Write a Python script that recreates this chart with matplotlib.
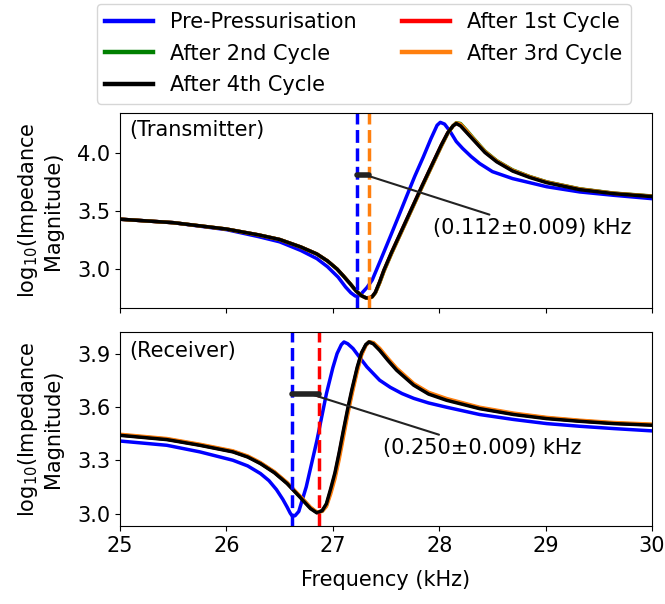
import matplotlib
matplotlib.use("Agg")
import matplotlib.pyplot as plt
import numpy as np

# ---- Transmitter: frequency (kHz) and log10 impedance magnitude ----
tx_pre_f = [25.0, 25.5, 26.0, 26.3, 26.5, 26.7, 26.85, 26.95, 27.05, 27.12, 27.17, 27.21,
            27.235, 27.27, 27.32, 27.37, 27.45, 27.54, 27.62, 27.69, 27.77, 27.85, 27.92,
            27.98, 28.01, 28.05, 28.1, 28.16, 28.22, 28.3, 28.38, 28.5, 28.69, 29.01,
            29.32, 29.64, 30.0]
tx_pre_v = [3.43, 3.40, 3.34, 3.28, 3.235, 3.16, 3.09, 3.02, 2.93, 2.845, 2.795, 2.768,
            2.765, 2.79, 2.84, 2.905, 3.08, 3.28, 3.46, 3.62, 3.80, 3.966, 4.12,
            4.24, 4.265, 4.25, 4.19, 4.10, 4.04, 3.97, 3.91, 3.84, 3.78, 3.71,
            3.665, 3.636, 3.607]

tx_f = [25.0, 25.5, 26.0, 26.3, 26.5, 26.7, 26.85, 26.95, 27.04, 27.1, 27.16, 27.22,
        27.27, 27.31, 27.34, 27.37, 27.40, 27.44, 27.48, 27.55, 27.65, 27.73, 27.84,
        27.94, 28.02, 28.08, 28.13, 28.16, 28.2, 28.26, 28.32, 28.43, 28.54, 28.69,
        28.85, 29.01, 29.32, 29.64, 30.0]
tx_c1_v = [3.43, 3.40, 3.345, 3.295, 3.255, 3.19, 3.13, 3.07, 3.00, 2.94, 2.877, 2.81,
           2.77, 2.752, 2.75, 2.762, 2.80, 2.89, 2.99, 3.14, 3.34, 3.50, 3.72,
           3.915, 4.07, 4.175, 4.235, 4.255, 4.24, 4.18, 4.12, 4.01, 3.93, 3.85,
           3.795, 3.75, 3.69, 3.654, 3.628]
tx_c2_v = [3.43, 3.40, 3.345, 3.295, 3.255, 3.19, 3.13, 3.07, 3.00, 2.94, 2.877, 2.81,
           2.77, 2.752, 2.75, 2.76, 2.795, 2.88, 2.98, 3.13, 3.33, 3.49, 3.71,
           3.905, 4.06, 4.17, 4.235, 4.262, 4.255, 4.195, 4.13, 4.017, 3.935, 3.855,
           3.798, 3.752, 3.692, 3.655, 3.63]
tx_c3_v = [3.43, 3.40, 3.345, 3.295, 3.255, 3.19, 3.13, 3.07, 3.00, 2.94, 2.877, 2.81,
           2.77, 2.752, 2.75, 2.76, 2.795, 2.88, 2.98, 3.13, 3.33, 3.49, 3.71,
           3.905, 4.06, 4.17, 4.235, 4.26, 4.25, 4.19, 4.125, 4.013, 3.932, 3.852,
           3.796, 3.75, 3.69, 3.653, 3.628]
tx_c4_v = [3.43, 3.40, 3.345, 3.295, 3.255, 3.19, 3.13, 3.07, 3.00, 2.94, 2.877, 2.81,
           2.77, 2.752, 2.75, 2.762, 2.80, 2.89, 2.99, 3.14, 3.34, 3.50, 3.72,
           3.915, 4.07, 4.175, 4.235, 4.255, 4.235, 4.175, 4.115, 4.005, 3.925, 3.845,
           3.79, 3.745, 3.685, 3.65, 3.625]

# ---- Receiver ----
rx_pre_f = [25.0, 25.44, 25.75, 26.06, 26.2, 26.32, 26.4, 26.47, 26.53, 26.57, 26.6,
            26.62, 26.645, 26.68, 26.75, 26.85, 26.94, 27.0, 27.04, 27.08, 27.105, 27.14,
            27.19, 27.25, 27.32, 27.44, 27.54, 27.65, 27.76, 27.9, 28.07, 28.38, 28.70,
            29.01, 29.32, 29.64, 30.0]
rx_pre_v = [3.408, 3.384, 3.347, 3.30, 3.268, 3.225, 3.185, 3.135, 3.08, 3.037, 3.002,
            2.985, 2.988, 3.012, 3.15, 3.41, 3.675, 3.82, 3.90, 3.95, 3.965, 3.955,
            3.928, 3.88, 3.825, 3.75, 3.71, 3.675, 3.648, 3.622, 3.598, 3.557, 3.529,
            3.506, 3.491, 3.478, 3.465]

rx_f = [25.0, 25.44, 25.75, 26.06, 26.2, 26.32, 26.45, 26.57, 26.69, 26.79, 26.85, 26.9,
        26.94, 26.98, 27.02, 27.06, 27.1, 27.14, 27.18, 27.23, 27.27, 27.31, 27.34,
        27.38, 27.44, 27.52, 27.60, 27.76, 27.90, 28.07, 28.38, 28.70, 29.01, 29.32,
        29.64, 30.0]
rx_c1_v = [3.442, 3.418, 3.386, 3.349, 3.32, 3.283, 3.232, 3.171, 3.096, 3.032, 3.006, 3.016,
           3.05, 3.13, 3.22, 3.335, 3.46, 3.58, 3.69, 3.818, 3.9, 3.948, 3.965,
           3.958, 3.922, 3.864, 3.81, 3.726, 3.676, 3.641, 3.593, 3.56, 3.537, 3.521,
           3.508, 3.499]
rx_c2_v = [3.443, 3.419, 3.387, 3.35, 3.321, 3.284, 3.233, 3.172, 3.097, 3.033, 3.007, 3.014,
           3.046, 3.125, 3.21, 3.325, 3.45, 3.57, 3.685, 3.812, 3.898, 3.948, 3.965,
           3.96, 3.925, 3.867, 3.813, 3.728, 3.678, 3.643, 3.594, 3.561, 3.538, 3.522,
           3.509, 3.5]
rx_c3_v = [3.446, 3.422, 3.39, 3.353, 3.324, 3.287, 3.236, 3.175, 3.1, 3.036, 3.008, 3.012,
           3.04, 3.11, 3.195, 3.305, 3.43, 3.555, 3.67, 3.80, 3.89, 3.945, 3.965,
           3.962, 3.93, 3.872, 3.818, 3.732, 3.682, 3.647, 3.598, 3.565, 3.541, 3.525,
           3.512, 3.503]
rx_c4_v = [3.44, 3.416, 3.384, 3.347, 3.318, 3.281, 3.23, 3.169, 3.093, 3.028, 3.004, 3.016,
           3.056, 3.14, 3.23, 3.345, 3.47, 3.59, 3.70, 3.825, 3.905, 3.95, 3.965,
           3.955, 3.918, 3.86, 3.806, 3.722, 3.672, 3.637, 3.59, 3.557, 3.534, 3.519,
           3.506, 3.497]

# resonance markers (kHz) and shifts
tx_res = [27.225, 27.337]
rx_res = [26.62, 26.87]
tx_label = "(0.112±0.009) kHz"
rx_label = "(0.250±0.009) kHz"

labels = ["Pre-Pressurisation", "After 1st Cycle", "After 2nd Cycle",
          "After 3rd Cycle", "After 4th Cycle"]
colors = ["blue", "red", "green", "tab:orange", "black"]

plt.rcParams["font.size"] = 15

fig = plt.figure(figsize=(6.65, 6.04), dpi=100)
ax1 = fig.add_axes([0.1805, 0.490, 0.8, 0.3228])
ax2 = fig.add_axes([0.1805, 0.1291, 0.8, 0.3212], sharex=ax1)

lw = 2.5
tx_series = [(tx_pre_f, tx_pre_v), (tx_f, tx_c1_v), (tx_f, tx_c2_v), (tx_f, tx_c3_v), (tx_f, tx_c4_v)]
rx_series = [(rx_pre_f, rx_pre_v), (rx_f, rx_c1_v), (rx_f, rx_c2_v), (rx_f, rx_c3_v), (rx_f, rx_c4_v)]

handles = []
for (f, v), c, lab in zip(tx_series, colors, labels):
    h, = ax1.plot(f, v, color=c, lw=lw, label=lab)
    handles.append(h)
for (f, v), c in zip(rx_series, colors):
    ax2.plot(f, v, color=c, lw=lw)

# dashed resonance lines
ax1.axvline(tx_res[0], color="blue", ls="--", lw=lw)
ax1.axvline(tx_res[1], color="tab:orange", ls="--", lw=lw)
ax2.axvline(rx_res[0], color="blue", ls="--", lw=lw)
ax2.axvline(rx_res[1], color="red", ls="--", lw=lw)

# shift bars + annotations
y_bar_tx = 3.81
ax1.plot(tx_res, [y_bar_tx, y_bar_tx], color="#222222", lw=4, solid_capstyle="round")
ax1.annotate(tx_label, xy=(np.mean(tx_res) + 0.03, y_bar_tx), xytext=(27.94, 3.352),
             va="center", ha="left", fontsize=15,
             arrowprops=dict(arrowstyle="-", color="#222222", lw=1.5, shrinkA=2, shrinkB=0))

y_bar_rx = 3.675
ax2.plot(rx_res, [y_bar_rx, y_bar_rx], color="#222222", lw=4, solid_capstyle="round")
ax2.annotate(rx_label, xy=(np.mean(rx_res) + 0.03, y_bar_rx), xytext=(27.47, 3.367),
             va="center", ha="left", fontsize=15,
             arrowprops=dict(arrowstyle="-", color="#222222", lw=1.5, shrinkA=2, shrinkB=0))

ax1.text(0.017, 0.965, "(Transmitter)", transform=ax1.transAxes, va="top", ha="left")
ax2.text(0.017, 0.955, "(Receiver)", transform=ax2.transAxes, va="top", ha="left")

ax1.set_xlim(25, 30)
ax1.set_ylim(2.664, 4.345)
ax1.set_yticks([3.0, 3.5, 4.0])
ax2.set_ylim(2.930, 4.021)
ax2.set_yticks([3.0, 3.3, 3.6, 3.9])
ax2.set_xticks([25, 26, 27, 28, 29, 30])
plt.setp(ax1.get_xticklabels(), visible=False)

ylab = "log$_{10}$(Impedance\nMagnitude)"
ax1.set_ylabel(ylab, ha="center", labelpad=10)
ax2.set_ylabel(ylab, ha="center", labelpad=10)
ax2.set_xlabel("Frequency (kHz)", labelpad=10)

order = [0, 2, 4, 1, 3]
leg = fig.legend([handles[i] for i in order], [labels[i] for i in order], ncol=2,
                 loc="upper left", bbox_to_anchor=(97 / 665, 1 - 4 / 604), borderaxespad=0,
                 fontsize=15, handlelength=2.3, columnspacing=2.2, labelspacing=0.55)
for line in leg.get_lines():
    line.set_linewidth(3.2)

fig.savefig("out.png", dpi=100)
